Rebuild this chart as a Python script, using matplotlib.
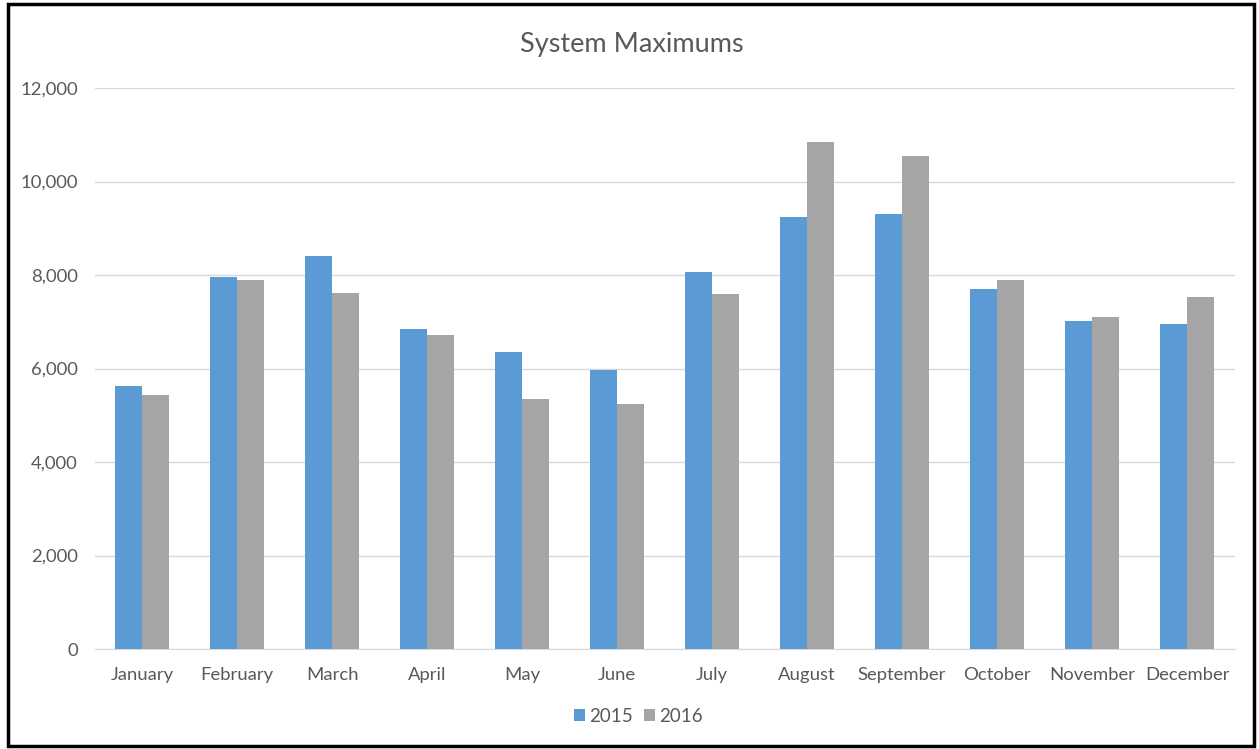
import matplotlib.pyplot as plt
import matplotlib.patches as patches
import numpy as np

months = ['January', 'February', 'March', 'April', 'May', 'June', 'July',
          'August', 'September', 'October', 'November', 'December']
vals_2015 = [5630, 7950, 8400, 6840, 6360, 5960, 8070, 9250, 9310, 7700, 7020, 6950]
vals_2016 = [5430, 7890, 7610, 6710, 5350, 5240, 7600, 10850, 10540, 7890, 7100, 7520]

plt.rcParams['font.family'] = ['Lato', 'DejaVu Sans']

fig = plt.figure(figsize=(12.59, 7.49), dpi=100)
ax = fig.add_axes([0.0751, 0.1335, 0.9055, 0.749])

x = np.arange(len(months))
w = 0.285
ax.bar(x - w / 2, vals_2015, w, color='#5B9BD5', label='2015', zorder=3)
ax.bar(x + w / 2, vals_2016, w, color='#A5A5A5', label='2016', zorder=3)

ax.set_xlim(-0.5, len(months) - 0.5)
ax.set_ylim(0, 12000)
ax.set_yticks(range(0, 12001, 2000))
ax.set_yticklabels(['{:,}'.format(v) for v in range(0, 12001, 2000)])
ax.set_xticks(x)
ax.set_xticklabels(months)
ax.tick_params(axis='both', length=0, labelsize=13.3, colors='#595959')
ax.tick_params(axis='x', pad=13)
ax.tick_params(axis='y', pad=12)
ax.grid(axis='y', color='#D9D9D9', linewidth=1, zorder=0)
for side in ['top', 'right', 'left']:
    ax.spines[side].set_visible(False)
ax.spines['bottom'].set_color('#D9D9D9')

fig.text(0.502, 0.94, 'System Maximums', ha='center', va='center',
         fontsize=19.5, color='#595959')

fig.legend(loc='center', bbox_to_anchor=(0.507, 0.044), ncol=2, frameon=False,
           fontsize=13.5, handlelength=0.6, handleheight=0.6, handletextpad=0.2,
           columnspacing=0.6, labelcolor='#595959')

fig.patches.append(patches.Rectangle((0.006, 0.004), 0.99, 0.99, transform=fig.transFigure,
                                     fill=False, edgecolor='black', linewidth=2.5))

fig.savefig('out.png', dpi=100)
